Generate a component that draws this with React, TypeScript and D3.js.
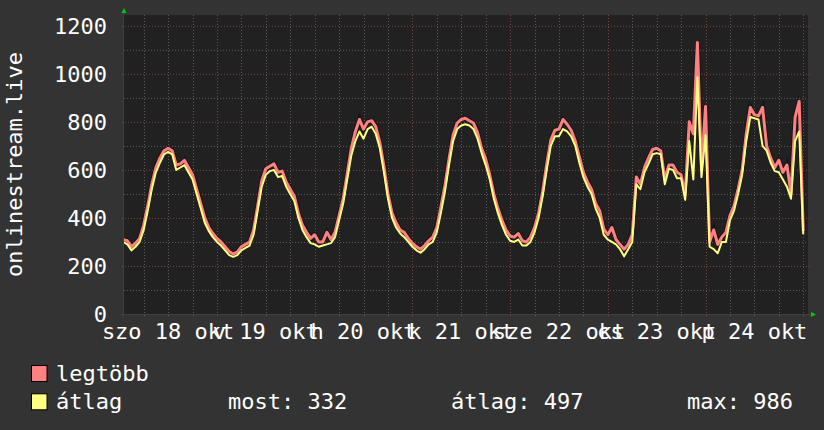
import * as d3 from 'd3';

// hourly samples, first one at szo 18 okt 01:00
const START = new Date(2025, 9, 18, 1, 0);

const avgValues = [
  300, 290, 265, 280, 300, 350, 430, 520, 590, 630, 665, 675, 665, 600, 610, 620, 590, 560, 500, 440, 380, 345, 320,
  300, 285, 265, 245, 238, 245, 265, 275, 285, 330, 430, 530, 580, 595, 600, 570, 575, 530, 500, 470, 400, 350, 320, 295,
  290, 280, 285, 290, 295, 320, 390, 460, 560, 660, 720, 760, 730, 770, 780, 750, 690, 590, 480, 400, 360, 335, 320, 300,
  280, 265, 255, 270, 290, 300, 340, 420, 510, 620, 720, 770, 785, 790, 785, 770, 730, 670, 620, 560, 480, 420, 370, 330,
  305, 300, 310, 285, 285, 300, 340, 400, 490, 600, 700, 740, 740, 770, 760, 740, 700, 630, 570, 530, 500, 440, 400, 330,
  310, 300, 290, 270, 240, 270, 300, 540, 520, 590, 625, 665, 670, 665, 540, 605, 600, 565, 565, 475, 720, 560, 986, 570, 745,
  280, 270, 253, 300, 300, 390, 430, 500, 580, 720, 820, 815, 810, 700, 680, 630, 595, 590, 560, 530, 480, 720, 760, 332,
];

const maxValues = [
  310, 305, 280, 295, 315, 370, 450, 540, 610, 650, 680, 690, 680, 620, 625, 640, 610, 580, 520, 460, 400, 360, 335,
  315, 300, 280, 260, 250, 258, 280, 290, 300, 350, 450, 555, 605, 615, 625, 590, 595, 550, 520, 490, 420, 370, 340, 315,
  330, 300, 300, 340, 310, 340, 410, 480, 585, 690, 760, 810, 770, 800, 805, 780, 715, 615, 500, 420, 380, 350, 340, 315,
  295, 280, 270, 285, 305, 320, 360, 445, 535, 645, 745, 795, 810, 815, 805, 795, 755, 690, 645, 580, 500, 440, 390, 350,
  325, 320, 335, 305, 300, 320, 360, 420, 510, 625, 725, 765, 770, 810, 790, 765, 720, 655, 590, 550, 520, 460, 430, 355,
  330, 360, 310, 290, 270, 290, 330, 570, 540, 610, 650, 685, 690, 680, 560, 620, 620, 590, 580, 495, 800, 750, 1130, 600, 864,
  300, 350, 290, 320, 340, 410, 450, 520, 600, 750, 860, 830, 825, 860, 700, 650, 610, 640, 590, 620, 500, 820, 885, 345,
];

const yTicks = [0, 200, 400, 600, 800, 1000, 1200];
const yMinorTicks = [100, 300, 500, 700, 900, 1100];
const dayLabels = ['szo 18 okt', 'v 19 okt', 'h 20 okt', 'k 21 okt', 'sze 22 okt', 'cs 23 okt', 'p 24 okt'];
const yTitle = 'onlinestream.live';
const seriesNames = ['legtöbb', 'átlag'];
const seriesColors = ['#ff8080', '#ffff80'];
const statLabels = ['most: 332', 'átlag: 497', 'max: 986'];

const FONT = '"DejaVu Sans Mono", monospace';

export default function App() {
  const width = 824;
  const height = 430;
  const left = 124;
  const right = 808;
  const top = 15;
  const bottom = 314;

  const times = avgValues.map((_, i) => d3.timeHour.offset(START, i));

  const x = d3
    .scaleTime()
    .domain([new Date(2025, 9, 18, 1, 10), new Date(2025, 9, 25, 1, 10)])
    .range([left, right]);
  const y = d3.scaleLinear().domain([0, 1245]).range([bottom, top]);

  const line = d3
    .line<number>()
    .x((_, i) => x(times[i]))
    .y((d) => y(d))
    .curve(d3.curveLinear);

  const [t0, t1] = x.domain();
  const sixHours = d3.timeHour.every(6)!.range(t0, t1);
  const midnights = d3.timeDay.range(t0, t1);
  const days = d3.timeDay.range(d3.timeDay.floor(t0), t1);

  const gridMinor = '#5a5a5a';
  const gridMajor = '#7a4444';

  return (
    <svg
      width={width}
      height={height}
      style={{ position: 'absolute', left: 0, top: 0, display: 'block' }}
      fontFamily={FONT}
    >
      <rect width={width} height={height} fill="#333333" />
      <rect x={left} y={top} width={right - left} height={bottom - top} fill="#212121" />

      {/* grid */}
      {yMinorTicks.map((v) => (
        <line key={'ym' + v} x1={left} x2={right} y1={y(v) + 0.5} y2={y(v) + 0.5} stroke={gridMinor} strokeDasharray="1 2" />
      ))}
      {sixHours
        .filter((t) => t.getHours() !== 0)
        .map((t) => (
          <line key={'xm' + +t} x1={Math.round(x(t)) + 0.5} x2={Math.round(x(t)) + 0.5} y1={top} y2={bottom + 2} stroke={gridMinor} strokeDasharray="1 2" />
        ))}
      {yTicks.slice(1).map((v) => (
        <line key={'yM' + v} x1={left - 2} x2={right + 2} y1={y(v) + 0.5} y2={y(v) + 0.5} stroke={gridMajor} strokeDasharray="1 2" />
      ))}
      {midnights.map((t) => (
        <line key={'xM' + +t} x1={Math.round(x(t)) + 0.5} x2={Math.round(x(t)) + 0.5} y1={top} y2={bottom + 3} stroke={gridMajor} strokeDasharray="1 2" />
      ))}

      {/* axes */}
      <line x1={left - 0.5} x2={left - 0.5} y1={top - 4} y2={bottom + 3} stroke="#404040" />
      <line x1={left - 3} x2={right + 4} y1={bottom + 0.5} y2={bottom + 0.5} stroke="#404040" />
      <path d={`M${left - 2.5},${top - 2} L${left + 2.5},${top - 2} L${left},${top - 7} Z`} fill="#00cc00" />
      <path d={`M${right + 3},${bottom - 2} L${right + 3},${bottom + 3} L${right + 8},${bottom + 0.5} Z`} fill="#00cc00" />

      {/* series */}
      <g clipPath="url(#plot)">
        <clipPath id="plot">
          <rect x={left} y={top} width={right - left} height={bottom - top} />
        </clipPath>
        <path d={line(maxValues) || ''} fill="none" stroke="rgba(0,0,0,0.3)" strokeWidth={5} />
        <path d={line(maxValues) || ''} fill="none" stroke={seriesColors[0]} strokeWidth={3} strokeLinejoin="round" />
        <path d={line(avgValues) || ''} fill="none" stroke={seriesColors[1]} strokeWidth={2} strokeLinejoin="round" />
      </g>

      {/* y tick labels */}
      {yTicks.map((v) => (
        <text key={'yl' + v} x={107} y={y(v) + 8} textAnchor="end" fontSize={22} fill="#ffffff">
          {v}
        </text>
      ))}

      {/* x labels, centred on noon of each day */}
      {days.map((d, i) => (
        <text key={'xl' + i} x={x(d3.timeHour.offset(d, 12))} y={338.5} textAnchor="middle" fontSize={22} fill="#ffffff">
          {dayLabels[i]}
        </text>
      ))}

      <text
        transform={`translate(21.5, ${(top + bottom) / 2}) rotate(-90)`}
        textAnchor="middle"
        fontSize={22}
        fill="#ffffff"
      >
        {yTitle}
      </text>

      {/* legend */}
      {seriesNames.map((name, i) => (
        <g key={name}>
          <rect x={31.5} y={365.5 + i * 28.3} width={15.5} height={16} fill={seriesColors[i]} stroke="#000000" />
          <text x={56} y={380.7 + i * 28.3} fontSize={22} fill="#ffffff">
            {name}
          </text>
        </g>
      ))}
      {statLabels.map((s, i) => (
        <text key={s} x={[228, 451, 687][i]} y={409} fontSize={22} fill="#ffffff">
          {s}
        </text>
      ))}
    </svg>
  );
}
